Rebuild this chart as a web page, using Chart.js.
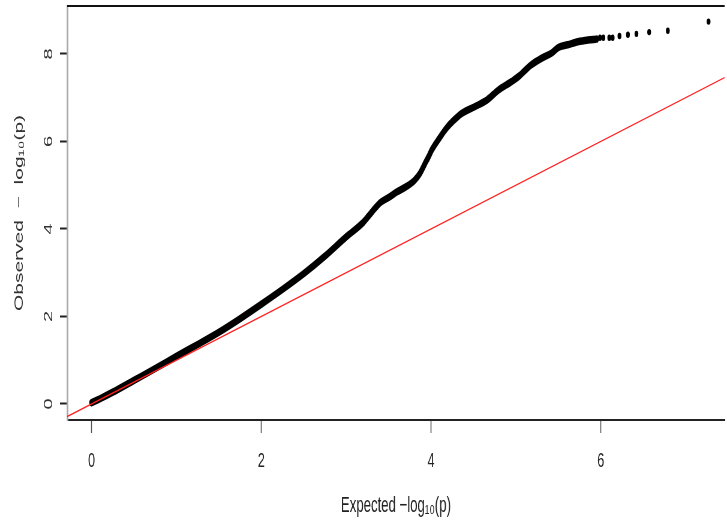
<!DOCTYPE html>
<html>
<head>
<meta charset="utf-8">
<script src="https://cdn.jsdelivr.net/npm/chart.js@4"></script>
<style>
  html, body { margin: 0; padding: 0; background: #fff; overflow: hidden; }
</style>
</head>
<body>
<!-- drawn 1212 wide and squeezed to 727px, like the squashed original -->
<canvas id="qq" width="1212" height="527" style="width:727px;height:527px;display:block"></canvas>
<script>
// observed vs expected -log10(p)
const expectedDense = [0.00, 0.10, 0.25, 0.50, 0.75, 1.00, 1.25, 1.50, 1.75, 2.00, 2.25, 2.50, 2.75, 3.00,
  3.20, 3.30, 3.40, 3.50, 3.60, 3.70, 3.80, 3.87, 3.93, 3.97, 4.01, 4.10, 4.18, 4.25, 4.36, 4.52,
  4.66, 4.79, 4.95, 5.04, 5.11, 5.18, 5.30, 5.42, 5.50, 5.61, 5.73, 5.85, 5.95];
const observedDense = [0.03, 0.12, 0.27, 0.54, 0.81, 1.09, 1.36, 1.64, 1.95, 2.28, 2.62, 2.98, 3.38, 3.82,
  4.15, 4.38, 4.60, 4.72, 4.85, 4.96, 5.10, 5.27, 5.50, 5.65, 5.81, 6.08, 6.30, 6.45, 6.64, 6.80,
  6.95, 7.17, 7.37, 7.50, 7.63, 7.75, 7.90, 8.02, 8.15, 8.21, 8.28, 8.32, 8.34];
const expectedTail = [5.99, 6.03, 6.10, 6.14, 6.22, 6.32, 6.42, 6.57, 6.79, 7.27];
const observedTail = [8.37, 8.37, 8.37, 8.37, 8.41, 8.44, 8.46, 8.50, 8.53, 8.74];
const xTicks = [0, 2, 4, 6];
const yTicks = [0, 2, 4, 6, 8];

const xMin = -0.287, xMax = 7.459;
const yMin = -0.366, yMax = 9.097;

const pts = (xs, ys) => xs.map((x, i) => ({x: x, y: ys[i]}));

// top edge of the plot box
const boxTop = {
  id: 'boxTop',
  afterDraw(chart) {
    const a = chart.chartArea, c = chart.ctx;
    c.save();
    c.strokeStyle = '#111';
    c.lineWidth = 2;
    c.beginPath();
    c.moveTo(a.left, a.top);
    c.lineTo(a.right, a.top);
    c.stroke();
    c.restore();
  }
};

new Chart(document.getElementById('qq'), {
  type: 'scatter',
  data: {
    datasets: [{
      label: 'y = x',
      type: 'line',
      data: [{x: xMin, y: xMin}, {x: xMax, y: xMax}],
      borderColor: '#ff2020',
      borderWidth: 1.3,
      pointRadius: 0,
      order: 0
    }, {
      label: 'dense',
      type: 'line',
      data: pts(expectedDense, observedDense),
      borderColor: '#000',
      backgroundColor: '#000',
      borderWidth: 7.5,
      borderCapStyle: 'round',
      borderJoinStyle: 'round',
      cubicInterpolationMode: 'monotone',
      pointRadius: 0,
      order: 1
    }, {
      label: 'tail',
      data: pts(expectedTail, observedTail),
      backgroundColor: '#000',
      borderColor: '#000',
      pointRadius: 3.2,
      borderWidth: 0,
      order: 1
    }]
  },
  plugins: [boxTop],
  options: {
    responsive: false,
    animation: false,
    events: [],
    layout: { padding: { top: 6, right: 0, left: 0, bottom: 0 } },
    plugins: { legend: { display: false }, tooltip: { enabled: false } },
    scales: {
      x: {
        type: 'linear',
        min: xMin,
        max: xMax,
        afterBuildTicks: s => { s.ticks = xTicks.map(v => ({value: v})); },
        afterFit: s => { s.height = 107; s.paddingLeft = 0; s.paddingRight = 0; },
        border: { display: true, color: '#222', width: 2 },
        grid: { drawOnChartArea: false, drawTicks: true, tickLength: 13, tickColor: '#555', tickWidth: 1.6 },
        ticks: {
          color: '#222',
          padding: 16,
          font: { family: 'Liberation Sans', size: 21 }
        },
        title: {
          display: true,
          text: 'Expected −log₁₀(p)',
          color: '#222',
          padding: { top: 0, bottom: 8 },
          font: { family: 'Liberation Sans Narrow, Liberation Sans', size: 22 }
        }
      },
      y: {
        type: 'linear',
        min: yMin,
        max: yMax,
        afterBuildTicks: s => { s.ticks = yTicks.map(v => ({value: v})); },
        afterFit: s => { s.width = 112; s.paddingTop = 0; s.paddingBottom = 0; },
        border: { display: true, color: '#aaa', width: 3 },
        grid: { drawOnChartArea: false, drawTicks: true, tickLength: 12, tickColor: '#222', tickWidth: 2 },
        ticks: {
          color: '#333',
          padding: 13,
          minRotation: 90,
          maxRotation: 90,
          crossAlign: 'center',
          font: { family: 'Liberation Sans', size: 20 }
        },
        title: {
          display: true,
          text: 'Observed  −  log₁₀(p)',
          color: '#333',
          padding: { top: 20, bottom: 0 },
          font: { family: 'Liberation Sans', size: 21 }
        }
      }
    }
  }
});
</script>
</body>
</html>
